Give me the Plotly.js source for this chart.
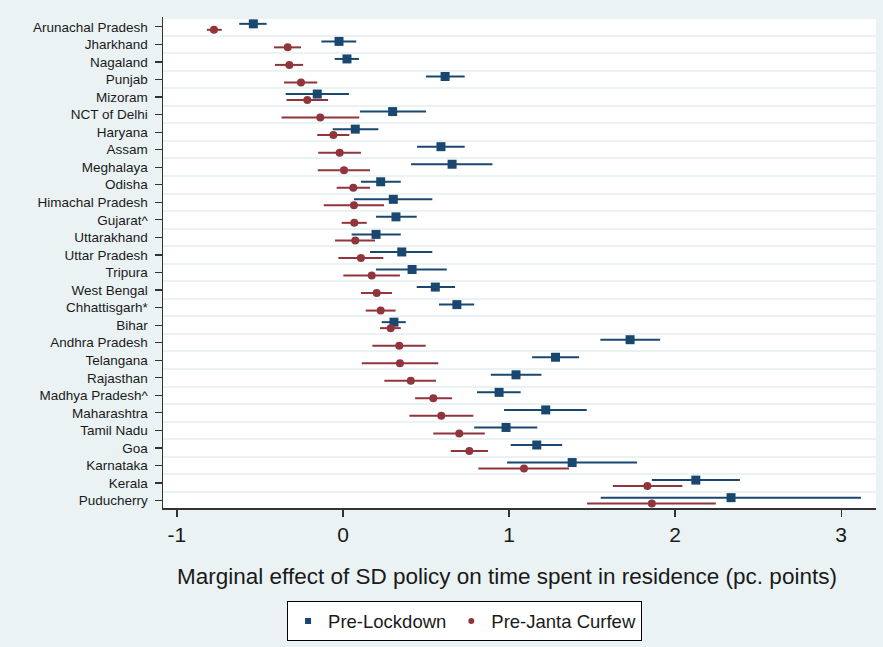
<!DOCTYPE html>
<html>
<head>
<meta charset="utf-8">
<script src="https://cdn.plot.ly/plotly-3.0.1.min.js"></script>
<style>html,body{margin:0;padding:0;background:#eaf2f3;}#chart{width:883px;height:647px;}</style>
</head>
<body>
<div id="chart"></div>
<script>
var states = ["Arunachal Pradesh","Jharkhand","Nagaland","Punjab","Mizoram","NCT of Delhi","Haryana","Assam","Meghalaya","Odisha","Himachal Pradesh","Gujarat^","Uttarakhand","Uttar Pradesh","Tripura","West Bengal","Chhattisgarh*","Bihar","Andhra Pradesh","Telangana","Rajasthan","Madhya Pradesh^","Maharashtra","Tamil Nadu","Goa","Karnataka","Kerala","Puducherry"];

var lockEst = [-0.54,-0.024,0.024,0.615,-0.155,0.299,0.074,0.59,0.657,0.227,0.303,0.319,0.199,0.354,0.416,0.556,0.686,0.307,1.729,1.28,1.042,0.94,1.221,0.982,1.167,1.38,2.125,2.337];
var lockLo  = [-0.625,-0.13,-0.05,0.50,-0.345,0.102,-0.062,0.446,0.41,0.108,0.066,0.199,0.052,0.163,0.199,0.444,0.578,0.233,1.55,1.139,0.89,0.807,0.97,0.79,1.01,0.988,1.86,1.552];
var lockHi  = [-0.46,0.08,0.096,0.733,0.036,0.50,0.213,0.733,0.90,0.348,0.538,0.444,0.348,0.538,0.625,0.675,0.79,0.378,1.91,1.422,1.195,1.07,1.468,1.17,1.32,1.771,2.39,3.12];

var jantaEst = [-0.777,-0.333,-0.323,-0.253,-0.215,-0.137,-0.058,-0.02,0.006,0.062,0.066,0.068,0.074,0.108,0.173,0.203,0.227,0.287,0.339,0.343,0.408,0.544,0.592,0.70,0.761,1.09,1.833,1.86];
var jantaLo  = [-0.82,-0.416,-0.41,-0.355,-0.34,-0.37,-0.155,-0.149,-0.152,-0.038,-0.116,-0.008,-0.048,-0.028,0.002,0.108,0.137,0.223,0.177,0.113,0.249,0.434,0.40,0.544,0.649,0.815,1.625,1.47];
var jantaHi  = [-0.73,-0.253,-0.24,-0.155,-0.09,0.098,0.038,0.108,0.163,0.163,0.247,0.143,0.193,0.243,0.343,0.295,0.317,0.348,0.498,0.574,0.56,0.657,0.785,0.854,0.873,1.361,2.044,2.245];

var xTicks = [-1,0,1,2,3];
var xTitle = 'Marginal effect of SD policy on time spent in residence (pc. points)';

var rows = states.map(function(s,i){return i+1;});
var blue = '#1a476f', red = '#90353b';

function trace(name, est, lo, hi, off, color, symbol, size){
  return {
    type:'scatter', mode:'markers', name:name, showlegend:false,
    x: est,
    y: rows.map(function(r){return r+off;}),
    error_x:{type:'data', symmetric:false,
      array: est.map(function(v,i){return hi[i]-v;}),
      arrayminus: est.map(function(v,i){return v-lo[i];}),
      color:color, thickness:2, width:0},
    marker:{color:color, symbol:symbol, size:size},
    hoverinfo:'x+name'
  };
}
function legendItem(name, color, symbol, size){
  return {type:'scatter', mode:'markers', name:name, x:[null], y:[null],
    marker:{color:color, symbol:symbol, size:size}, showlegend:true};
}

var data = [
  trace('Pre-Lockdown', lockEst, lockLo, lockHi, -0.17, blue, 'square', 9),
  trace('Pre-Janta Curfew', jantaEst, jantaLo, jantaHi, 0.17, red, 'circle', 8),
  legendItem('Pre-Lockdown', blue, 'square', 6),
  legendItem('Pre-Janta Curfew', red, 'circle', 6)
];

var layout = {
  width:883, height:647,
  margin:{l:163, r:7, t:17, b:138},
  paper_bgcolor:'#eaf2f3',
  plot_bgcolor:'#ffffff',
  font:{family:'Arial, "Liberation Sans", sans-serif', color:'#1a1a1a'},
  showlegend:true,
  legend:{orientation:'h', x:0.174, xanchor:'left', y:-0.188, yanchor:'top',
    bgcolor:'#ffffff', bordercolor:'#000000', borderwidth:1,
    font:{size:18.5, color:'#1a1a1a'}, traceorder:'normal'},
  annotations:[{text:xTitle, xref:'paper', yref:'paper', x:0.4825, y:-0.140,
    xanchor:'center', yanchor:'middle', showarrow:false, font:{size:22.5, color:'#1a1a1a'}}],
  xaxis:{
    range:[-1.084, 3.21],
    tickmode:'array', tickvals:xTicks, ticktext:xTicks.map(String),
    ticks:'outside', ticklen:7, tickwidth:1.2, tickcolor:'#333',
    tickfont:{size:21},
    showgrid:false, zeroline:false,
    showline:true, linecolor:'#333', linewidth:1.5
  },
  yaxis:{
    range:[28.42, 0.44],
    tickmode:'array', tickvals:rows, ticktext:states,
    ticks:'outside', ticklen:7, tickwidth:1.2, tickcolor:'#333',
    tickfont:{size:13.5}, ticklabelstandoff:4,
    showgrid:false, zeroline:false,
    showline:true, linecolor:'#333', linewidth:1.5,
    minor:{tickmode:'linear', tick0:0.5, dtick:1, showgrid:true, gridcolor:'#eaf2f3', gridwidth:2, ticks:''}
  }
};

Plotly.newPlot('chart', data, layout, {displayModeBar:false, staticPlot:true});
</script>
</body>
</html>
